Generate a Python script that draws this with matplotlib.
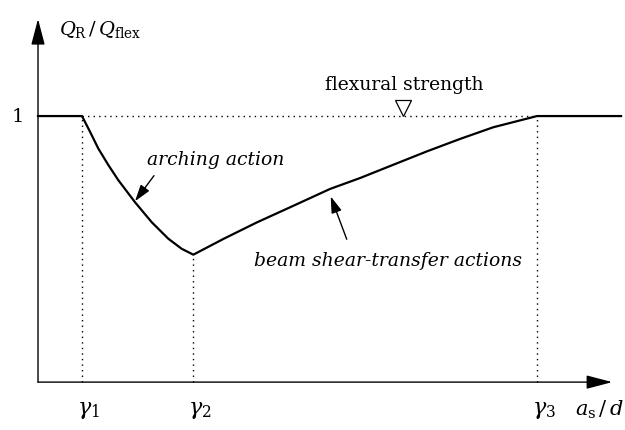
import matplotlib
matplotlib.use('Agg')
import matplotlib.pyplot as plt

plt.rcParams['font.family'] = 'DejaVu Serif'
plt.rcParams['mathtext.fontset'] = 'dejavuserif'

# characteristic shear slenderness values (a_s/d)
gamma_x = [1.0, 3.53, 11.34]
gamma_labels = [r'$\gamma_1$', r'$\gamma_2$', r'$\gamma_3$']
x_start, x_end = 0.0, 13.25

# arching action branch (gamma1 -> gamma2)
arch_x = [1.0, 1.182, 1.370, 1.598, 1.825, 2.205, 2.584, 2.961, 3.266, 3.53]
arch_y = [1.0, 0.941, 0.878, 0.816, 0.759, 0.676, 0.601, 0.539, 0.501, 0.479]

# beam shear-transfer branch (gamma2 -> gamma3)
beam_x = [3.53, 4.211, 4.970, 5.727, 6.636, 7.318, 8.075, 8.834, 9.591, 10.348, 11.34]
beam_y = [0.479, 0.538, 0.600, 0.657, 0.726, 0.767, 0.817, 0.867, 0.914, 0.958, 1.0]

curve_x = [x_start] + arch_x + beam_x[1:] + [x_end]
curve_y = [1.0] + arch_y + beam_y[1:] + [1.0]

fig = plt.figure(figsize=(6.25, 4.31), dpi=100)
ax = fig.add_axes([0, 0, 1, 1])
ax.set_xlim(-0.864, 13.34)
ax.set_ylim(-0.18, 1.44)
ax.axis('off')

# axes with arrow heads
arrow = dict(arrowstyle='-|>,head_length=1.6,head_width=0.42', color='black',
             lw=1.0, shrinkA=0, shrinkB=0)
ax.annotate('', xy=(13.05, 0), xytext=(0, 0), arrowprops=arrow)
ax.annotate('', xy=(0, 1.365), xytext=(0, 0), arrowprops=arrow)

# flexural strength level and gamma markers
dots = (0, (1, 3))
ax.plot([gamma_x[0], gamma_x[2]], [1, 1], color='black', lw=1.0, linestyle=dots)
for gx, gy in zip(gamma_x, [1.0, arch_y[-1], 1.0]):
    ax.plot([gx, gx], [0, gy], color='black', lw=1.0, linestyle=dots)

# main curve
ax.plot(curve_x, curve_y, color='black', lw=1.6, solid_joinstyle='round')

# triangle marker for flexural strength
ax.plot([8.30], [1.03], marker='v', markersize=12, markerfacecolor='white',
        markeredgecolor='black', markeredgewidth=0.9)
ax.text(8.32, 1.101, 'flexural strength', fontsize=13.5, ha='center', va='baseline')

# annotations
head = dict(arrowstyle='-|>,head_length=1.0,head_width=0.32', color='black',
            lw=1.0, shrinkA=0, shrinkB=0)
ax.text(4.045, 0.820, 'arching action', fontsize=13.5, style='italic',
        ha='center', va='baseline')
ax.annotate('', xy=(2.205, 0.680), xytext=(2.636, 0.776), arrowprops=head)
ax.text(7.95, 0.44, 'beam shear-transfer actions', fontsize=13.5, style='italic',
        ha='center', va='baseline')
ax.annotate('', xy=(6.652, 0.698), xytext=(7.016, 0.537), arrowprops=head)

# labels
ax.text(-0.45, 1.0, '1', fontsize=14, ha='center', va='center')
ax.text(1.41, 1.33, r'$Q_{\mathrm{R}}\,/\,Q_{\mathrm{flex}}$', fontsize=14,
        ha='center', va='center')
for gx, lab in zip(gamma_x, gamma_labels):
    ax.text(gx + 0.15, -0.1, lab, fontsize=16, ha='center', va='center')
ax.text(12.75, -0.1, r'$a_{\mathrm{s}}\,/\,d$', fontsize=15, ha='center',
        va='center')

fig.savefig('out.png', dpi=100)
